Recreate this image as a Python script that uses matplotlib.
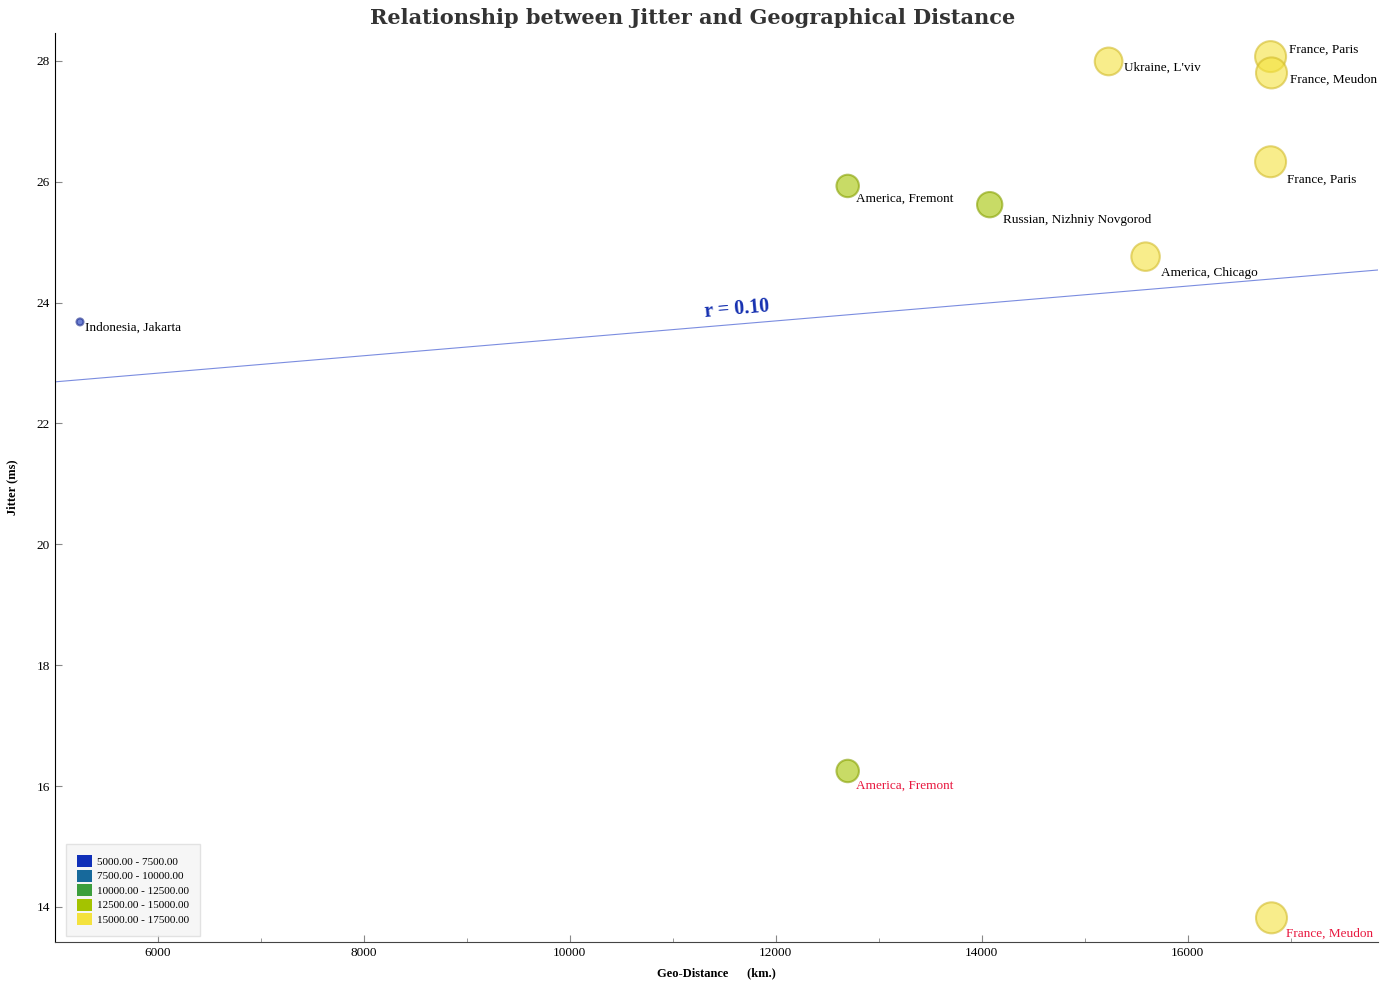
import numpy as np
import matplotlib.pyplot as plt
from matplotlib.patches import Patch
from matplotlib.ticker import MultipleLocator

plt.rcParams['font.family'] = ['Liberation Serif', 'DejaVu Serif']

# data
locations = ['Indonesia, Jakarta', 'America, Fremont', 'Russian, Nizhniy Novgorod',
             'America, Chicago', "Ukraine, L'viv", 'France, Paris', 'France, Meudon',
             'France, Paris', 'America, Fremont', 'France, Meudon']
distance = np.array([5243, 12699, 14078, 15592, 15233, 16806, 16815, 16806, 12699, 16815])
jitter = np.array([23.68, 25.93, 25.62, 24.76, 27.99, 28.07, 27.80, 26.33, 16.25, 13.82])
outlier = [False, False, False, False, False, False, False, False, True, True]

bins = [5000, 7500, 10000, 12500, 15000, 17500]
bin_colors = ['#0f2fb8', '#17699b', '#3c9e3c', '#a4c300', '#f4e23e']
edge_colors = ['#1a2a8a', '#15557a', '#2f7a2f', '#86a000', '#d2bb2a']

# label offsets in pixels (dx, dy), None -> default below/right of marker
label_offsets = [None, (8, -13), None, None, (15, -6), (18, 7), (18, -7), None, (8, -15), (14, -16)]

fig = plt.figure(figsize=(13.85, 9.83), dpi=100)
ax = fig.add_axes([0.0397, 0.0417, 0.9553, 0.9247])

idx = np.clip(np.digitize(distance, bins) - 1, 0, len(bin_colors) - 1)
radius_px = -1.94 + 0.001037 * distance
sizes = (2 * radius_px * 0.72) ** 2

ax.scatter(distance, jitter, s=sizes, c=[bin_colors[i] for i in idx],
           edgecolors=[edge_colors[i] for i in idx], linewidths=1.5, alpha=0.6, zorder=3)

for i, name in enumerate(locations):
    r = radius_px[i]
    off = label_offsets[i] if label_offsets[i] else (r + 1, -(r + 2.5))
    ax.annotate(name, (distance[i], jitter[i]), xytext=(off[0] * 0.72, off[1] * 0.72),
                textcoords='offset points', ha='left', va='center', fontsize=9.5,
                color='#e8173e' if outlier[i] else 'black', zorder=4)

# regression line
slope, intercept = np.polyfit(distance, jitter, 1)
r_val = np.corrcoef(distance, jitter)[0, 1]
xl = np.array([5000, 17850])
ax.plot(xl, slope * xl + intercept, color='#5a70d8', lw=0.8, alpha=0.8, zorder=2)
ax.text(11620, slope * 11620 + intercept + 0.03, 'r = %.2f' % r_val, color='#1530b0',
        fontsize=14.5, fontweight='bold', rotation=5, ha='center', va='bottom')

ax.set_xlim(5000, 17850)
ax.set_ylim(13.42, 28.46)
ax.xaxis.set_major_locator(MultipleLocator(2000))
ax.xaxis.set_minor_locator(MultipleLocator(1000))
ax.yaxis.set_major_locator(MultipleLocator(2))
ax.tick_params(which='both', direction='in', color='#888888', labelsize=9.5)
ax.tick_params(which='major', length=5)
ax.tick_params(which='minor', length=3)
ax.tick_params(axis='y', which='minor', left=False)
ax.spines['top'].set_visible(False)
ax.spines['right'].set_visible(False)
ax.spines['bottom'].set_color('#444444')

ax.set_xlabel('Geo-Distance      (km.)', fontsize=9, fontweight='bold', labelpad=6)
ax.set_ylabel('Jitter (ms)', fontsize=9, fontweight='bold', labelpad=13)
fig.suptitle('Relationship between Jitter and Geographical Distance', y=0.992,
             fontsize=15, fontweight='bold', color='#333333', family='DejaVu Serif')

handles = [Patch(facecolor=c, label='%.2f - %.2f' % (bins[k], bins[k + 1]))
           for k, c in enumerate(bin_colors)]
leg = ax.legend(handles=handles, loc='lower left', fontsize=8, handlelength=1.4,
                handleheight=1.3, handletextpad=0.4, labelspacing=0.22,
                borderpad=1.0, fancybox=False, bbox_to_anchor=(0.004, 0.0))
leg.get_frame().set_facecolor('#f4f4f4')
leg.get_frame().set_edgecolor('#dddddd')

plt.savefig('out.png', dpi=100)
